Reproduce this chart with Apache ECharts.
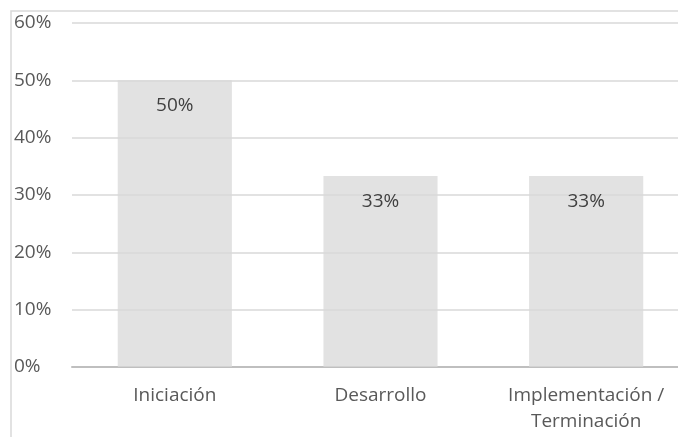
<!DOCTYPE html>
<html>
<head>
<meta charset="utf-8">
<script src="https://cdn.jsdelivr.net/npm/echarts@6/dist/echarts.min.js"></script>
<style>
  html, body { margin: 0; padding: 0; background: #fff; overflow: hidden; }
  #chart { width: 689px; height: 437px; }
</style>
</head>
<body>
<div id="chart"></div>
<script>
// Phases and share of items per phase
const categories = ['Iniciación', 'Desarrollo', 'Implementación /\nTerminación'];
const shares = [0.50, 0.333, 0.333];
const yTicks = [0, 0.1, 0.2, 0.3, 0.4, 0.5, 0.6];

const pct = v => Math.round(v * 100) + '%';
const font = '"Open Sans", "Noto Sans", sans-serif';

const chart = echarts.init(document.getElementById('chart'));
chart.setOption({
  animation: false,
  backgroundColor: '#ffffff',
  graphic: [{
    type: 'rect',
    shape: { x: 11, y: 11, width: 800, height: 600 },
    style: { fill: 'none', stroke: '#d9d9d9', lineWidth: 1.5 },
    silent: true,
    z: -1
  }],
  grid: { left: 72, right: 0, top: 23, bottom: 70 },
  xAxis: {
    type: 'category',
    data: categories,
    axisTick: { show: false },
    axisLine: { lineStyle: { color: '#bfbfbf', width: 2 } },
    axisLabel: {
      color: '#595959', fontSize: 19, fontFamily: font,
      margin: 16, lineHeight: 26, interval: 0
    }
  },
  yAxis: {
    type: 'value',
    min: yTicks[0],
    max: yTicks[yTicks.length - 1],
    interval: 0.1,
    axisLine: { show: false },
    axisTick: { show: false },
    splitLine: { lineStyle: { color: '#d9d9d9', width: 1.5 } },
    axisLabel: {
      color: '#595959', fontSize: 19, fontFamily: font,
      align: 'left', margin: 58,
      formatter: pct
    }
  },
  series: [{
    type: 'bar',
    data: shares,
    barWidth: '55.5%',
    itemStyle: { color: 'rgba(216,216,216,0.75)' },
    label: {
      show: true,
      position: 'insideTop',
      distance: 16,
      color: '#404040',
      fontSize: 19,
      fontFamily: font,
      formatter: p => pct(p.value)
    }
  }]
});
</script>
</body>
</html>
